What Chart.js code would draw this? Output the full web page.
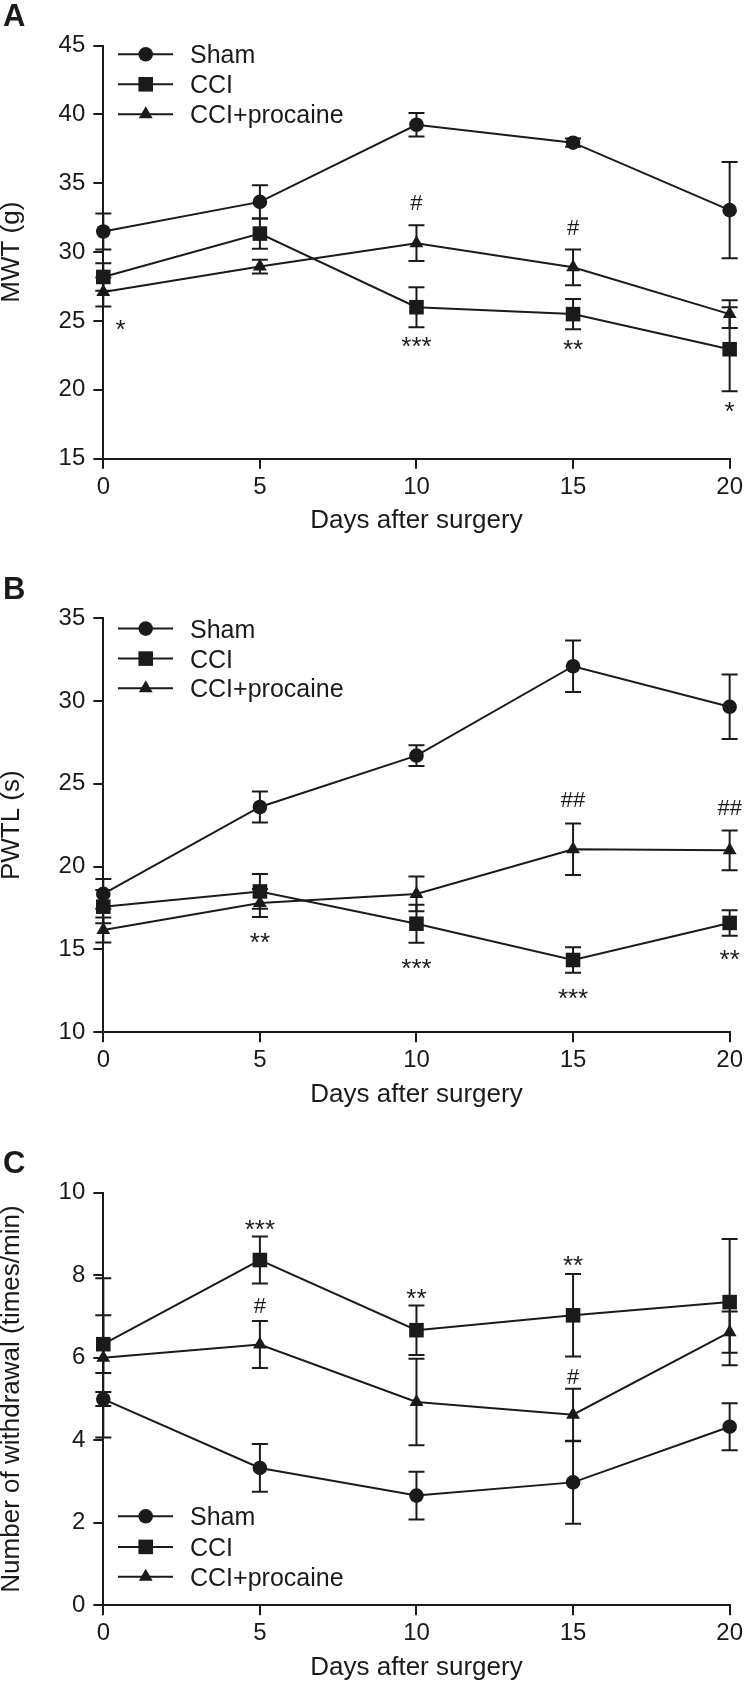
<!DOCTYPE html>
<html>
<head>
<meta charset="utf-8">
<script src="https://cdn.jsdelivr.net/npm/chart.js@4.4.1/dist/chart.umd.min.js"></script>
<style>
  html, body { margin: 0; padding: 0; background: #fff; }
  #wrap { position: relative; width: 747px; height: 1684px; overflow: hidden; }
  canvas { position: absolute; left: 0; display: block; }
</style>
</head>
<body>
<div id="wrap">
  <canvas id="panelA" width="747" height="560" style="top:0px"></canvas>
  <canvas id="panelB" width="747" height="560" style="top:560px"></canvas>
  <canvas id="panelC" width="747" height="564" style="top:1120px"></canvas>
</div>
<script>
// ===== 3 panels: MWT / PWTL / withdrawal count, mean ± SEM =====

const days = [0, 5, 10, 15, 20];
const groupNames = ['Sham', 'CCI', 'CCI+procaine'];

// A: MWT (g)
const mwtTicks = [15, 20, 25, 30, 35, 40, 45];
const mwtSham = [31.5, 33.65, 39.25, 37.95, 33.05];
const mwtShamErr = [1.3, 1.2, 0.85, 0.3, 3.5];
const mwtCci = [28.2, 31.35, 26.0, 25.5, 22.95];
const mwtCciErr = [1.0, 1.1, 1.45, 1.1, 3.05];
const mwtProc = [27.1, 28.95, 30.65, 28.9, 25.5];
const mwtProcErr = [1.05, 0.5, 1.3, 1.3, 1.0];
const mwtMarkX = [0.55, 10, 10, 15, 15, 20];
const mwtMarkY = [24.85, 33.66, 23.62, 31.83, 23.42, 18.9];
const mwtMarkText = ['*', '#', '***', '#', '**', '*'];

// B: PWTL (s)
const pwtlTicks = [10, 15, 20, 25, 30, 35];
const pwtlSham = [18.35, 23.6, 26.7, 32.1, 29.65];
const pwtlShamErr = [0.9, 0.93, 0.63, 1.55, 1.95];
const pwtlCci = [17.58, 18.5, 16.55, 14.36, 16.6];
const pwtlCciErr = [1.0, 1.05, 1.15, 0.77, 0.77];
const pwtlProc = [16.17, 17.8, 18.35, 21.05, 20.98];
const pwtlProcErr = [0.75, 0.85, 1.05, 1.55, 1.2];
const pwtlMarkX = [5, 10, 15, 20, 15, 20];
const pwtlMarkY = [15.81, 14.26, 24.06, 23.62, 12.45, 14.76];
const pwtlMarkText = ['**', '***', '##', '##', '***', '**'];

// C: Number of withdrawal (times/min)
const wdTicks = [0, 2, 4, 6, 8, 10];
const wdSham = [5.0, 3.33, 2.66, 2.98, 4.33];
const wdShamErr = [0.17, 0.58, 0.58, 1.0, 0.57];
const wdCci = [6.33, 8.37, 6.67, 7.03, 7.35];
const wdCciErr = [0.7, 0.57, 0.6, 1.0, 1.53];
const wdProc = [6.0, 6.32, 4.93, 4.62, 6.62];
const wdProcErr = [1.93, 0.57, 1.05, 0.63, 0.5];
const wdMarkX = [5, 5, 10, 15, 15];
const wdMarkY = [9.28, 7.28, 7.60, 8.39, 5.56];
const wdMarkText = ['***', '#', '**', '**', '#'];

const INK = '#1a1a1a';
const FONT = "'Liberation Sans', Arial, Helvetica, sans-serif";
const X_AXIS_H = 77.9;
const Y_AXIS_W = 103.3;

// error bars (drawn under the markers)
const errorBars = {
  id: 'errorBars',
  beforeDatasetsDraw(chart) {
    const { ctx, scales: { x, y } } = chart;
    ctx.save();
    ctx.strokeStyle = INK;
    ctx.lineWidth = 2;
    chart.data.datasets.forEach(ds => {
      ds.data.forEach((p, i) => {
        const e = ds.errors[i];
        const px = x.getPixelForValue(p.x);
        const top = y.getPixelForValue(p.y + e);
        const bot = y.getPixelForValue(p.y - e);
        ctx.beginPath();
        ctx.moveTo(px, top); ctx.lineTo(px, bot);
        ctx.moveTo(px - 8, top); ctx.lineTo(px + 8, top);
        ctx.moveTo(px - 8, bot); ctx.lineTo(px + 8, bot);
        ctx.stroke();
      });
    });
    ctx.restore();
  }
};

// significance marks (* vs Sham, # vs CCI)
const sigMarks = {
  id: 'sigMarks',
  afterDatasetsDraw(chart, args, opts) {
    const { ctx, scales: { x, y } } = chart;
    ctx.save();
    ctx.fillStyle = INK;
    ctx.textAlign = 'center';
    ctx.textBaseline = 'alphabetic';
    opts.text.forEach((t, i) => {
      const hash = t[0] === '#';
      const size = hash ? 22 : 26;
      ctx.font = `${size}px ${FONT}`;
      const px = x.getPixelForValue(opts.x[i]);
      const py = y.getPixelForValue(opts.y[i]) + (hash ? 0.36 : 0.58) * size;
      ctx.fillText(t, px, py);
    });
    ctx.restore();
  }
};

// legend: short line with the marker in the middle
const lineLegend = {
  id: 'lineLegend',
  afterDatasetsDraw(chart, args, opts) {
    const ctx = chart.ctx;
    ctx.save();
    chart.data.datasets.forEach((ds, i) => {
      const y = opts.rows[i];
      ctx.strokeStyle = INK;
      ctx.lineWidth = 2;
      ctx.beginPath(); ctx.moveTo(118, y); ctx.lineTo(173, y); ctx.stroke();
      ctx.fillStyle = INK;
      Chart.helpers.drawPoint(ctx, { pointStyle: ds.pointStyle, radius: ds.pointRadius, borderWidth: 0, rotation: 0 }, 145.7, y);
      ctx.font = `25px ${FONT}`;
      ctx.textAlign = 'left';
      ctx.textBaseline = 'alphabetic';
      ctx.fillText(ds.label, 190, y + 9);
    });
    ctx.restore();
  }
};

const panelLetter = {
  id: 'panelLetter',
  afterDraw(chart, args, opts) {
    const ctx = chart.ctx;
    ctx.save();
    ctx.fillStyle = INK;
    ctx.font = `bold 31px ${FONT}`;
    ctx.textAlign = 'left';
    ctx.textBaseline = 'alphabetic';
    ctx.fillText(opts.letter, 3, opts.y);
    ctx.restore();
  }
};

function series(label, ys, errs, style, radius) {
  return {
    label, errors: errs,
    data: days.map((d, i) => ({ x: d, y: ys[i] })),
    borderColor: INK, backgroundColor: INK, borderWidth: 2, tension: 0, fill: false, clip: false,
    pointStyle: style, pointRadius: radius, pointBackgroundColor: INK, pointBorderWidth: 0,
    pointHoverRadius: radius
  };
}

function axisCommon() {
  return {
    type: 'linear',
    grid: { drawOnChartArea: false, drawTicks: true, tickLength: 10, color: INK, lineWidth: 2 },
    border: { display: true, color: INK, width: 2 }
  };
}

function drawPanel(id, p) {
  const H = document.getElementById(id).height;
  new Chart(document.getElementById(id), {
    type: 'line',
    data: {
      datasets: [
        series(groupNames[0], p.sham, p.shamErr, 'circle', 7.3),
        series(groupNames[1], p.cci, p.cciErr, 'rect', 10.3),
        series(groupNames[2], p.proc, p.procErr, 'triangle', 8)
      ]
    },
    options: {
      responsive: false,
      animation: false,
      events: [],
      layout: { padding: { left: 0, right: 15, top: p.plotTop, bottom: H - p.plotBottom - X_AXIS_H } },
      scales: {
        x: Object.assign(axisCommon(), {
          min: days[0], max: days[days.length - 1],
          afterBuildTicks: s => { s.ticks = days.map(v => ({ value: v })); },
          afterFit: s => { s.height = X_AXIS_H; },
          ticks: { color: INK, padding: 4, autoSkip: false, maxRotation: 0, font: { family: FONT, size: 24 } },
          title: { display: true, text: 'Days after surgery', color: INK, padding: 0, font: { family: FONT, size: 26 } }
        }),
        y: Object.assign(axisCommon(), {
          min: p.ticks[0], max: p.ticks[p.ticks.length - 1],
          afterBuildTicks: s => { s.ticks = p.ticks.map(v => ({ value: v })); },
          afterFit: s => { s.width = Y_AXIS_W; },
          ticks: { color: INK, padding: 8, autoSkip: false, font: { family: FONT, size: 24 } },
          title: { display: true, text: p.yTitle, color: INK, padding: 0, font: { family: FONT, size: 26, lineHeight: 0.9 } }
        })
      },
      plugins: {
        legend: { display: false },
        tooltip: { enabled: false },
        sigMarks: { x: p.markX, y: p.markY, text: p.markText },
        lineLegend: { rows: p.legendRows },
        panelLetter: { letter: p.letter, y: p.letterY }
      }
    },
    plugins: [errorBars, sigMarks, lineLegend, panelLetter]
  });
}

drawPanel('panelA', {
  letter: 'A', letterY: 26, yTitle: 'MWT (g)', ticks: mwtTicks,
  plotTop: 45.6, plotBottom: 458.7, legendRows: [54.3, 84.3, 114.3],
  sham: mwtSham, shamErr: mwtShamErr, cci: mwtCci, cciErr: mwtCciErr, proc: mwtProc, procErr: mwtProcErr,
  markX: mwtMarkX, markY: mwtMarkY, markText: mwtMarkText
});

drawPanel('panelB', {
  letter: 'B', letterY: 38.6, yTitle: 'PWTL (s)', ticks: pwtlTicks,
  plotTop: 58.2, plotBottom: 472.2, legendRows: [68.6, 98.6, 128.2],
  sham: pwtlSham, shamErr: pwtlShamErr, cci: pwtlCci, cciErr: pwtlCciErr, proc: pwtlProc, procErr: pwtlProcErr,
  markX: pwtlMarkX, markY: pwtlMarkY, markText: pwtlMarkText
});

drawPanel('panelC', {
  letter: 'C', letterY: 53.2, yTitle: 'Number of withdrawal (times/min)', ticks: wdTicks,
  plotTop: 72.8, plotBottom: 485.3, legendRows: [396.3, 426.9, 456.7],
  sham: wdSham, shamErr: wdShamErr, cci: wdCci, cciErr: wdCciErr, proc: wdProc, procErr: wdProcErr,
  markX: wdMarkX, markY: wdMarkY, markText: wdMarkText
});
</script>
</body>
</html>
